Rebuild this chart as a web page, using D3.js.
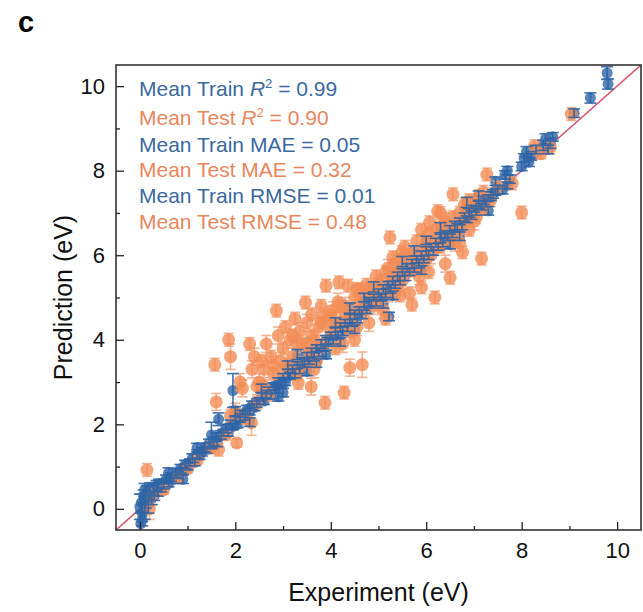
<!DOCTYPE html>
<html>
<head>
<meta charset="utf-8">
<script src="https://cdn.jsdelivr.net/npm/d3@7"></script>
<style>
  body { margin: 0; background: #fff; }
  text { font-family: "Liberation Sans", Arial, sans-serif; }
</style>
</head>
<body>
<div id="chart"></div>
<script>
// [experiment, prediction, error]
const trainPoints = [
  [0.02,-0.35,0.25],[0.05,-0.1,0.2],[0.03,0.15,0.2],[0.08,0.3,0.15],[0.1,-0.05,0.2],
  [0.12,0.2,0.18],[0.0,0.05,0.3],[0.15,0.4,0.15],[0.18,0.1,0.2],[0.2,0.35,0.15],
  [0.22,0.5,0.12],[0.25,0.25,0.15],[0.28,0.45,0.12],[0.3,0.3,0.1],[0.05,-0.25,0.15],
  [0.1,0.45,0.15],[0.35,0.55,0.12],[0.38,0.4,0.1],[0.4,0.6,0.1],[0.45,0.5,0.1],
  [0.5,0.55,0.08],[0.55,0.7,0.1],[0.6,0.6,0.08],[0.65,0.75,0.1],[0.7,0.7,0.1],
  [0.75,0.85,0.1],[0.8,0.8,0.08],[0.85,0.95,0.1],[0.9,0.9,0.08],[0.95,1.05,0.1],
  [1.0,1.0,0.08],[1.05,1.1,0.08],[1.1,1.2,0.1],[1.15,1.1,0.08],[1.2,1.3,0.1],
  [1.25,1.25,0.08],[1.3,1.35,0.1],[1.35,1.45,0.1],[1.4,1.4,0.08],[1.45,1.55,0.1],
  [1.5,1.5,0.08],[1.55,1.6,0.1],[1.6,1.7,0.1],[1.62,1.55,0.08],[1.65,2.12,0.15],
  [1.7,1.75,0.1],[1.75,1.8,0.08],[1.8,1.9,0.1],[1.85,1.8,0.08],[1.9,2.0,0.1],
  [1.95,1.95,0.08],[2.0,2.1,0.1],[2.05,2.0,0.08],[2.1,2.15,0.1],[2.15,2.25,0.08],
  [2.2,2.2,0.1],[2.25,2.35,0.1],[2.3,2.3,0.08],[2.35,2.45,0.1],[2.4,2.4,0.08],
  [2.45,2.5,0.1],[1.95,2.8,0.4],[1.5,1.75,0.3],
  [2.5,2.55,0.08],[2.55,2.65,0.1],[2.6,2.55,0.08],[2.65,2.7,0.1],[2.7,2.8,0.08],
  [2.75,2.7,0.1],[2.8,2.9,0.08],[2.85,2.85,0.1],[2.9,3.0,0.1],[2.95,2.95,0.08],
  [3.0,3.1,0.1],[3.05,3.0,0.08],[3.1,3.2,0.1],[3.15,3.15,0.08],[3.2,3.3,0.1],
  [3.25,3.2,0.1],[3.3,3.4,0.08],[3.35,3.3,0.1],[3.4,3.5,0.08],[3.45,3.45,0.1],
  [3.5,3.6,0.1],[3.55,3.5,0.08],[3.6,3.7,0.1],[3.65,3.6,0.1],[3.7,3.8,0.08],
  [3.75,3.7,0.1],[3.8,3.9,0.1],[3.85,3.8,0.08],[3.9,4.0,0.1],[3.95,3.95,0.1],
  [4.0,4.1,0.08],[4.05,4.0,0.1],[4.1,4.2,0.1],[4.15,4.1,0.08],[4.2,4.3,0.1],
  [4.25,4.2,0.1],[4.3,4.4,0.08],[4.35,4.3,0.1],[4.4,4.5,0.1],[4.45,4.4,0.08],
  [4.5,4.6,0.1],[4.55,4.5,0.1],[4.6,4.7,0.08],[4.65,4.6,0.1],[4.7,4.8,0.1],
  [4.75,4.7,0.08],[4.8,4.9,0.1],[4.85,4.85,0.1],[4.9,5.0,0.08],[4.95,4.9,0.1],
  [3.0,2.75,0.1],[3.5,3.25,0.1],[4.2,3.95,0.1],
  [5.0,5.1,0.1],[5.05,5.0,0.08],[5.1,5.2,0.1],[5.15,5.1,0.1],[5.2,5.3,0.08],
  [5.22,4.55,0.1],[5.25,5.2,0.1],[5.3,5.4,0.1],[5.35,5.3,0.08],[5.4,5.5,0.1],
  [5.45,5.4,0.1],[5.5,5.6,0.08],[5.55,5.5,0.1],[5.6,5.7,0.1],[5.65,5.6,0.08],
  [5.7,5.8,0.1],[5.75,5.7,0.1],[5.8,5.9,0.08],[5.85,5.8,0.1],[5.9,6.0,0.1],
  [5.95,5.9,0.08],[6.0,6.1,0.1],[6.05,6.0,0.1],[6.1,6.2,0.08],[6.15,6.1,0.1],
  [6.2,6.3,0.1],[6.25,6.2,0.08],[6.3,6.4,0.1],[6.35,6.3,0.1],[6.4,6.5,0.08],
  [6.45,6.45,0.1],[6.5,6.6,0.1],[6.55,6.5,0.08],[6.6,6.7,0.1],[6.65,6.65,0.1],
  [6.7,6.8,0.08],[6.75,6.7,0.1],[6.8,6.9,0.1],[6.85,6.85,0.08],[6.9,7.0,0.1],
  [6.95,6.95,0.1],[7.0,7.1,0.08],[7.05,7.05,0.1],[7.1,7.2,0.1],[7.15,7.15,0.08],
  [7.2,7.3,0.1],[7.25,7.25,0.1],[7.3,7.35,0.08],[7.35,7.4,0.1],[7.4,7.45,0.1],
  [7.45,7.5,0.08],[7.5,7.55,0.1],
  [2.55,2.85,0.1],[2.9,2.65,0.1],[3.3,3.65,0.12],[3.7,3.45,0.1],[4.1,4.4,0.12],
  [4.5,4.25,0.1],[4.9,5.25,0.12],[5.1,4.85,0.1],[5.5,5.85,0.12],[5.9,5.65,0.1],
  [6.3,6.65,0.12],[6.7,6.45,0.1],[7.1,7.4,0.12],[7.3,7.05,0.1],[6.0,6.35,0.1],
  [6.5,6.25,0.1],[5.3,5.05,0.1],[4.7,5.0,0.1],[3.9,3.65,0.1],[3.1,3.4,0.1],
  [2.3,2.05,0.1],[2.0,2.3,0.12],[1.2,1.45,0.1],[0.9,0.7,0.1],[0.6,0.85,0.12],
  [6.85,7.25,0.12],[7.45,7.75,0.1],[5.75,6.1,0.12],[4.4,4.75,0.12],
  [7.6,7.55,0.1],[7.65,7.9,0.1],[7.7,8.0,0.1],[7.75,7.8,0.1],[7.7,7.65,0.08],
  [8.0,8.1,0.1],[8.05,8.3,0.1],[8.1,8.45,0.12],[8.15,8.2,0.1],[8.2,8.35,0.1],
  [8.3,8.5,0.1],[8.45,8.6,0.12],[8.5,8.75,0.12],[8.55,8.5,0.1],[8.6,8.65,0.12],
  [8.65,8.8,0.1],
  [9.1,9.36,0.1],[9.44,9.72,0.12],[9.79,10.31,0.15],[9.81,10.05,0.12]
]

const testPoints = [
  [0.15,0.92,0.15],[0.2,0.0,0.25],[0.25,0.3,0.2],[0.5,0.45,0.1],[0.8,0.75,0.1],
  [1.0,0.95,0.1],[1.2,1.15,0.1],[1.5,1.45,0.15],[1.57,3.41,0.15],[1.6,2.53,0.2],
  [1.65,1.4,0.15],[1.8,1.75,0.12],[1.86,4.0,0.15],[1.9,3.6,0.3],[2.03,1.56,0.1],
  [2.0,2.3,0.2],[2.1,3.0,0.2],[2.15,2.85,0.2],[2.2,2.15,0.15],[2.3,3.9,0.15],
  [2.34,2.04,0.3],[2.35,3.3,0.2],[2.4,3.6,0.2],[2.5,3.0,0.2],[2.55,3.5,0.15],
  [2.6,3.3,0.2],[2.65,3.9,0.2],[2.7,2.7,0.15],[2.75,3.6,0.15],[2.8,3.2,0.15],
  [2.86,4.69,0.15],[2.9,4.1,0.2],[2.95,3.5,0.2],[3.0,3.8,0.15],[3.05,4.3,0.15],
  [3.1,3.4,0.15],[3.15,4.0,0.2],[3.2,3.6,0.2],[3.25,4.5,0.15],[3.3,3.2,0.15],
  [3.32,2.98,0.15],[3.35,4.2,0.2],[3.4,3.9,0.15],[3.47,4.88,0.15],[3.5,4.4,0.2],
  [3.55,3.7,0.15],[3.59,2.89,0.2],[3.6,4.6,0.15],[3.65,4.0,0.2],[3.7,3.5,0.15],
  [3.75,4.3,0.2],[3.8,4.8,0.15],[3.85,3.9,0.2],[3.88,2.51,0.15],[3.9,5.28,0.15],
  [3.95,4.5,0.2],[4.0,4.2,0.15],[4.05,4.7,0.2],[4.1,3.8,0.15],[4.15,4.9,0.2],
  [4.17,5.36,0.15],[4.2,4.4,0.15],[4.25,3.9,0.2],[4.28,2.75,0.15],[4.3,4.8,0.2],
  [4.36,5.28,0.15],[4.4,3.34,0.2],[4.45,4.6,0.15],[4.5,5.0,0.2],[4.55,4.3,0.2],
  [4.6,5.2,0.15],[4.66,3.41,0.3],[4.7,4.7,0.2],[4.75,5.3,0.15],[4.8,4.4,0.2],
  [4.85,5.1,0.15],[4.9,4.8,0.2],[4.95,5.5,0.15],[5.0,4.9,0.2],[5.05,5.4,0.15],
  [5.1,4.7,0.2],[5.15,5.6,0.15],[5.2,5.1,0.2],[5.24,6.42,0.15],[5.3,5.5,0.15],
  [5.35,5.8,0.2],[5.4,5.2,0.15],[5.45,5.9,0.15],[5.49,6.07,0.15],[5.5,5.4,0.2],
  [5.55,6.2,0.15],[5.6,5.6,0.2],[5.65,5.1,0.15],[5.7,4.83,0.15],[5.72,6.0,0.15],
  [5.75,5.8,0.2],[5.8,6.33,0.15],[5.85,5.5,0.2],[5.9,5.24,0.15],[5.95,6.1,0.15],
  [6.0,5.9,0.2],[6.05,6.5,0.15],[6.07,6.78,0.15],[6.1,6.0,0.2],[6.15,6.3,0.15],
  [6.18,5.0,0.15],[6.2,6.6,0.2],[6.24,7.04,0.15],[6.3,6.2,0.15],[6.35,6.7,0.2],
  [6.4,5.8,0.2],[6.45,6.4,0.15],[6.5,5.47,0.15],[6.55,6.9,0.15],[6.56,7.44,0.15],
  [6.6,6.3,0.2],[6.65,6.6,0.15],[6.7,7.0,0.15],[6.76,6.07,0.15],[6.8,6.8,0.15],
  [6.85,7.1,0.15],[6.9,6.6,0.15],[7.0,7.2,0.15],[7.05,6.9,0.15],[7.1,7.4,0.15],
  [7.16,5.92,0.15],[7.2,7.1,0.15],[7.27,7.91,0.15],[7.35,7.3,0.15],[7.5,7.6,0.15],
  [7.8,7.7,0.15],[8.0,7.01,0.15],[8.27,8.58,0.15],[8.4,8.4,0.12],[8.6,8.55,0.15],
  [9.04,9.34,0.15],
  [3.0,3.3,0.15],[3.2,4.1,0.15],[3.4,3.4,0.2],[3.6,4.1,0.15],[3.8,4.4,0.15],
  [4.0,4.6,0.2],[4.2,4.8,0.15],[4.4,4.2,0.15],[4.6,4.9,0.2],[4.8,5.2,0.15],
  [5.0,5.3,0.15],[5.2,5.7,0.2],[5.4,5.6,0.15],[5.6,6.0,0.15],[5.8,5.7,0.2],
  [6.0,6.3,0.15],[6.2,6.2,0.15],[6.4,6.8,0.2],[6.6,6.6,0.15],[6.8,7.2,0.15],
  [7.0,6.8,0.2],[7.2,7.5,0.15],[4.1,4.3,0.15],[4.3,4.6,0.15],[3.3,3.9,0.2],
  [3.5,3.9,0.15],[2.8,3.4,0.2],[2.6,2.9,0.15],[2.45,2.5,0.15],[1.9,2.2,0.15],
  [5.9,6.6,0.15],[6.3,7.0,0.15],[6.9,7.3,0.15],[5.3,5.95,0.15],[4.55,5.2,0.15],
  [3.85,4.55,0.2],[4.9,5.15,0.15],[5.45,5.05,0.15],[6.05,5.6,0.15],[6.7,6.3,0.2],
  [3.65,3.3,0.2],[4.5,4.0,0.15],[5.15,4.5,0.15],[2.45,2.9,0.2]
]

const majorTicks = [0, 2, 4, 6, 8, 10]
const minorTicks = [1, 3, 5, 7, 9]

const stats = [
  { set: 'Train', metric: 'R2', value: '0.99' },
  { set: 'Test', metric: 'R2', value: '0.90' },
  { set: 'Train', metric: 'MAE', value: '0.05' },
  { set: 'Test', metric: 'MAE', value: '0.32' },
  { set: 'Train', metric: 'RMSE', value: '0.01' },
  { set: 'Test', metric: 'RMSE', value: '0.48' }
]

const blue = '#3b6fae'
const blueErr = '#2c63a6'
const orange = '#f28c55'
const orangeErr = '#f2a57e'
const textBlue = '#3a69a3'
const textOrange = '#e9865c'

const W = 643
const H = 612
const plot = { left: 116, right: 641, top: 65, bottom: 530 }

const svg = d3.select('#chart')
  .append('svg')
  .attr('width', W)
  .attr('height', H)

const x = d3.scaleLinear().domain([-0.5, 10.5]).range([plot.left, plot.right])
const y = d3.scaleLinear().domain([-0.5, 10.5]).range([plot.bottom, plot.top])

// panel letter
svg.append('text')
  .attr('x', 18)
  .attr('y', 32)
  .attr('font-size', 29)
  .attr('font-weight', 'bold')
  .text('c')

svg.append('clipPath').attr('id', 'clip')
  .append('rect')
  .attr('x', plot.left).attr('y', plot.top)
  .attr('width', plot.right - plot.left)
  .attr('height', plot.bottom - plot.top)

const g = svg.append('g').attr('clip-path', 'url(#clip)')

// y = x reference line
g.append('line')
  .attr('x1', x(-0.5)).attr('y1', y(-0.5))
  .attr('x2', x(10.5)).attr('y2', y(10.5))
  .attr('stroke', '#d9566e')
  .attr('stroke-width', 1.6)

function errorBars(sel, data, color, cap) {
  const bars = sel.selectAll(null).data(data).enter().append('g')
    .attr('stroke', color)
    .attr('stroke-width', 1.6)
  bars.append('line')
    .attr('x1', d => x(d[0])).attr('x2', d => x(d[0]))
    .attr('y1', d => y(d[1] - d[2])).attr('y2', d => y(d[1] + d[2]))
  bars.append('line')
    .attr('x1', d => x(d[0]) - cap).attr('x2', d => x(d[0]) + cap)
    .attr('y1', d => y(d[1] + d[2])).attr('y2', d => y(d[1] + d[2]))
  bars.append('line')
    .attr('x1', d => x(d[0]) - cap).attr('x2', d => x(d[0]) + cap)
    .attr('y1', d => y(d[1] - d[2])).attr('y2', d => y(d[1] - d[2]))
}

// train circles
g.append('g').selectAll('circle')
  .data(trainPoints)
  .enter()
  .append('circle')
  .attr('cx', d => x(d[0]))
  .attr('cy', d => y(d[1]))
  .attr('r', 5.5)
  .attr('fill', blue)
  .attr('opacity', 0.85)

// test error bars + circles
errorBars(g.append('g').attr('opacity', 0.85), testPoints, orangeErr, 5)

g.append('g').selectAll('circle')
  .data(testPoints)
  .enter()
  .append('circle')
  .attr('cx', d => x(d[0]))
  .attr('cy', d => y(d[1]))
  .attr('r', 6.5)
  .attr('fill', orange)
  .attr('opacity', 0.8)

// train error bars on top
errorBars(g.append('g').attr('opacity', 0.9), trainPoints, blueErr, 6)

// axes with inward ticks
const xAxis = d3.axisBottom(x).tickValues(majorTicks).tickSize(-8).tickPadding(12).tickFormat(d3.format('d'))
const yAxis = d3.axisLeft(y).tickValues(majorTicks).tickSize(-8).tickPadding(11).tickFormat(d3.format('d'))

svg.append('g')
  .attr('transform', 'translate(0,' + plot.bottom + ')')
  .call(xAxis)
svg.append('g')
  .attr('transform', 'translate(' + plot.left + ',0)')
  .call(yAxis)

svg.append('g')
  .attr('transform', 'translate(0,' + plot.bottom + ')')
  .call(d3.axisBottom(x).tickValues(minorTicks).tickSize(-4).tickFormat(''))
svg.append('g')
  .attr('transform', 'translate(' + plot.left + ',0)')
  .call(d3.axisLeft(y).tickValues(minorTicks).tickSize(-4).tickFormat(''))

svg.selectAll('.domain').remove()
svg.selectAll('.tick line').attr('stroke', '#222').attr('stroke-width', 1.3)
svg.selectAll('.tick text')
  .attr('font-size', 22)
  .attr('fill', '#111')
  .style('font-family', '"Liberation Sans", Arial, sans-serif')

// frame
svg.append('rect')
  .attr('x', plot.left).attr('y', plot.top)
  .attr('width', plot.right - plot.left)
  .attr('height', plot.bottom - plot.top)
  .attr('fill', 'none')
  .attr('stroke', '#333')
  .attr('stroke-width', 1.6)

// axis titles
svg.append('text')
  .attr('x', (plot.left + plot.right) / 2)
  .attr('y', 601)
  .attr('text-anchor', 'middle')
  .attr('font-size', 25)
  .attr('fill', '#111')
  .text('Experiment (eV)')

svg.append('text')
  .attr('transform', 'translate(72,' + (plot.top + plot.bottom) / 2 + ') rotate(-90)')
  .attr('text-anchor', 'middle')
  .attr('font-size', 25)
  .attr('fill', '#111')
  .text('Prediction (eV)')

// metric annotations
const lineY = [96, 125, 152, 177, 203, 229]
const ann = svg.append('g')
stats.forEach((s, i) => {
  const t = ann.append('text')
    .attr('x', 139)
    .attr('y', lineY[i])
    .attr('font-size', 21)
    .attr('fill', s.set === 'Train' ? textBlue : textOrange)
  t.append('tspan').text('Mean ' + s.set + ' ')
  if (s.metric === 'R2') {
    t.append('tspan').attr('font-style', 'italic').text('R')
    t.append('tspan').attr('font-size', 13).attr('dy', -8).text('2')
    t.append('tspan').attr('dy', 8).text(' = ' + s.value)
  } else {
    t.append('tspan').text(s.metric + ' = ' + s.value)
  }
})
</script>
</body>
</html>
